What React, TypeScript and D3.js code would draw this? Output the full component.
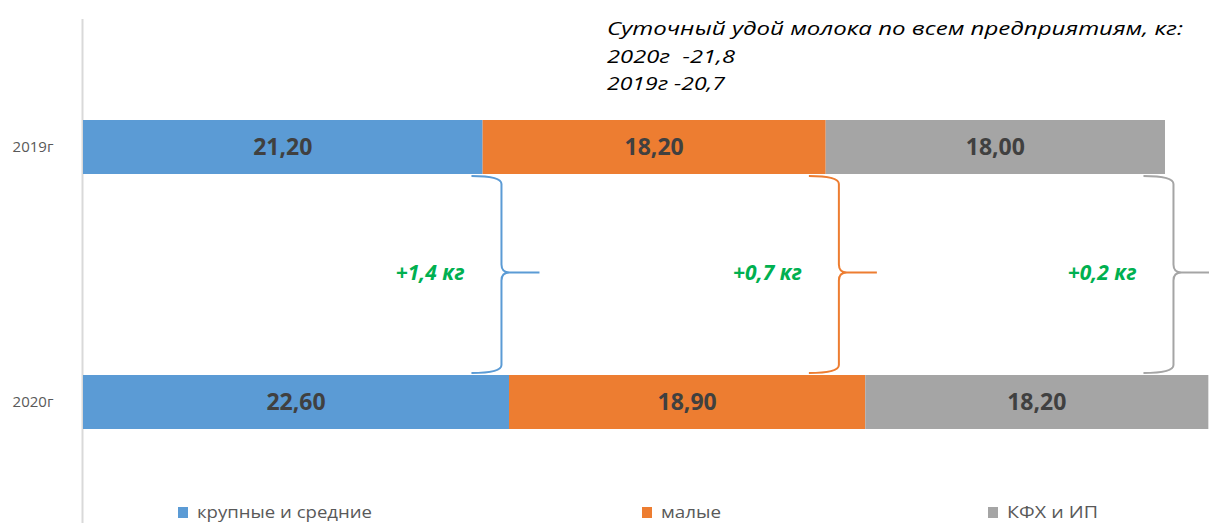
import React from "react";
import * as d3 from "d3";

const categories = ["2019г", "2020г"];
const seriesNames = ["крупные и средние", "малые", "КФХ и ИП"];
const seriesColors = ["#5B9BD5", "#ED7D31", "#A5A5A5"];
const values2019 = [21.2, 18.2, 18.0];
const values2020 = [22.6, 18.9, 18.2];
const diffLabels = ["+1,4 кг", "+0,7 кг", "+0,2 кг"];
const bracePos = [22.2, 40.1, 57.85];
const titleLines = [
  "Суточный удой молока по всем предприятиям, кг:",
  "2020г  -21,8",
  "2019г -20,7",
];
const titleWidths = [576, 128, 118];
const legendWidths = [175, 60, 91];

const W = 1209;
const H = 523;

export default function App() {
  const x = d3.scaleLinear().domain([0, 60]).range([83, 83 + 60 * 18.85]);
  const y = d3.scalePoint<string>().domain(categories).range([147, 402]);
  const barH = 54;
  const rows = [values2019, values2020];
  const fmt = (v: number) => v.toFixed(2).replace(".", ",");

  const yTop = (y(categories[0]) as number) + barH / 2 + 2;
  const yBot = (y(categories[1]) as number) - barH / 2 - 2;
  const yMid = (yTop + yBot) / 2 - 2;

  const bracePath = (xv: number) => {
    const x0 = xv - 30;
    const tip = xv + 38;
    return `M${x0},${yTop} Q${xv},${yTop} ${xv},${yTop + 8} L${xv},${yMid - 8} Q${xv},${yMid} ${xv + 8},${yMid} L${tip},${yMid} M${xv + 8},${yMid} Q${xv},${yMid} ${xv},${yMid + 8} L${xv},${yBot - 8} Q${xv},${yBot} ${x0},${yBot}`;
  };

  const legendX = [178, 642, 988];

  return (
    <svg width={W} height={H} style={{ position: "absolute", left: 0, top: 0, background: "#fff" }}>
      <rect x={0} y={0} width={W} height={H} fill="#fff" />
      {/* axis line */}
      <line x1={x(0) - 0.5} x2={x(0) - 0.5} y1={19} y2={H} stroke="#D9D9D9" strokeWidth={2} />
      {/* title */}
      {titleLines.map((t, i) => (
        <text
          key={i}
          x={607}
          y={35 + i * 27.5}
          fontFamily="Open Sans"
          fontStyle="italic"
          fontSize={19}
          fill="#000"
          textLength={titleWidths[i]}
          lengthAdjust="spacingAndGlyphs"
          style={{ whiteSpace: "pre" }}
        >
          {t}
        </text>
      ))}
      {/* bars */}
      {rows.map((vals, ri) => {
        const cy = y(categories[ri]) as number;
        const stack = d3.cumsum(vals);
        return (
          <g key={ri}>
            {vals.map((v, si) => {
              const x0 = x(si === 0 ? 0 : stack[si - 1]);
              const x1 = x(stack[si]);
              return (
                <g key={si}>
                  <rect x={x0} y={cy - barH / 2} width={x1 - x0} height={barH} fill={seriesColors[si]} />
                  <text
                    x={(x0 + x1) / 2}
                    y={cy}
                    dy="0.36em"
                    textAnchor="middle"
                    fontFamily="Open Sans"
                    fontWeight="bold"
                    fontSize={23}
                    fill="#404040"
                  >
                    {fmt(v)}
                  </text>
                </g>
              );
            })}
            <text
              x={33}
              y={cy}
              dy="0.35em"
              textAnchor="middle"
              fontFamily="Open Sans"
              fontSize={15}
              fill="#595959"
            >
              {categories[ri]}
            </text>
          </g>
        );
      })}
      {/* braces */}
      {bracePos.map((p, i) => {
        const xv = x(p);
        return (
          <g key={i}>
            <path d={bracePath(xv)} fill="none" stroke={seriesColors[i]} strokeWidth={2} />
            <text
              x={xv - 37}
              y={yMid}
              dy="0.35em"
              textAnchor="end"
              fontFamily="Open Sans"
              fontWeight="bold"
              fontStyle="italic"
              fontSize={21}
              fill="#00B050"
            >
              {diffLabels[i]}
            </text>
          </g>
        );
      })}
      {/* legend */}
      {seriesNames.map((n, i) => (
        <g key={i}>
          <rect x={legendX[i]} y={507} width={10} height={11} fill={seriesColors[i]} />
          <text
            x={legendX[i] + 19}
            y={518}
            fontFamily="Open Sans"
            fontSize={17}
            fill="#595959"
            textLength={legendWidths[i]}
            lengthAdjust="spacingAndGlyphs"
          >
            {n}
          </text>
        </g>
      ))}
    </svg>
  );
}
